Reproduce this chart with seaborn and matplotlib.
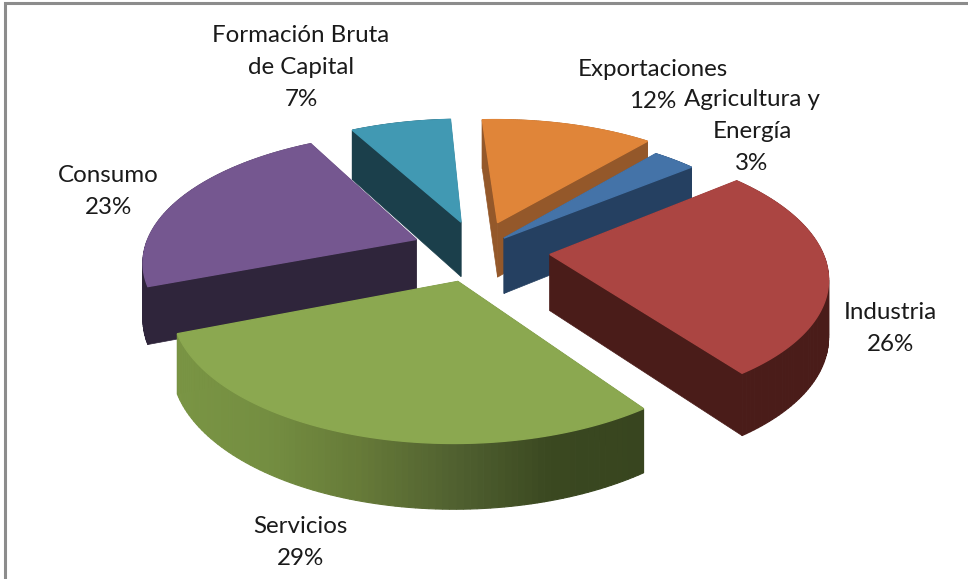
import numpy as np
import matplotlib
matplotlib.use('Agg')
import matplotlib.pyplot as plt
import seaborn as sns

# datos
categorias = ['Agricultura y\nEnergía', 'Industria', 'Servicios', 'Consumo', 'Formación Bruta\nde Capital', 'Exportaciones']
valores = [3, 26, 29, 23, 7, 12]

# colores
color_top = ['#4473a8', '#ab4542', '#8ba850', '#755790', '#4199b3', '#e08539']
color_corte = ['#254061', '#4a1c19', '#38451f', '#2f253b', '#1b3f4b', '#94582a']
color_arco = [['#254061', '#254061'],
              ['#4a1c19', '#4a1c19'],
              ['#7a9544', '#748e41', '#667a38', '#506030', '#3a4820', '#38451f'],
              ['#2f253b', '#2f253b'],
              ['#1b3f4b', '#1b3f4b'],
              ['#94582a', '#94582a']]
separacion = [0.136, 0.265, 0.25, 0.245, 0.237, 0.236]

# camara
cx, cy = 478, 250
R, incl, persp, grosor = 272, 0.465, 0.153, 56
inicio = 50

sns.set_theme(style='white')
plt.rcParams['font.family'] = ['Lato', 'DejaVu Sans']

fig, ax = plt.subplots(figsize=(9.68, 5.79), dpi=100)
ax.set_position([0, 0, 1, 1])
ax.set_xlim(0, 968)
ax.set_ylim(579, 0)
ax.axis('off')


def proyectar(u, v, z=0):
    u, v = np.asarray(u), np.asarray(v)
    w = 1 + persp * v
    return cx + R * u / w, cy - R * incl * v / w + z * grosor / (1 + 0.12 * v)


fin = inicio - np.cumsum(valores) * 3.6
ini = fin + np.array(valores) * 3.6
orden = [4, 5, 0, 3, 1, 2]

for i in orden:
    t = np.radians(np.linspace(ini[i], fin[i], 90))
    mid = np.radians((ini[i] + fin[i]) / 2)
    ou, ov = separacion[i] * np.cos(mid), separacion[i] * np.sin(mid)
    u, v = ou + np.cos(t), ov + np.sin(t)

    caras = []
    for j in [0, -1]:
        cu = np.array([ou, u[j]])
        cv = np.array([ov, v[j]])
        caras.append((cv.mean(), cu, cv, color_corte[i], 0.5))
    paleta = sns.blend_palette(color_arco[i], 256)
    for j in range(len(t) - 1):
        x_rel = np.clip((proyectar(u[j], v[j])[0] - 175) / (648 - 175), 0, 1)
        caras.append((v[j:j + 2].mean(), u[j:j + 2], v[j:j + 2], paleta[int(x_rel * 255)], 0.8))

    # primero lo de atras
    for _, cu, cv, col, ancho in sorted(caras, key=lambda c: -c[0]):
        x0, y0 = proyectar(cu, cv, 0)
        x1, y1 = proyectar(cu, cv, 1)
        ax.fill(np.r_[x0, x1[::-1]], np.r_[y0, y1[::-1]], color=col, lw=ancho)

    x, y = proyectar(np.r_[ou, u], np.r_[ov, v])
    ax.fill(x, y, color=color_top[i], lw=1.0)

# etiquetas, una linea cada vez
pos_etiquetas = [(752, 106), (890, 319), (300, 533), (108, 182), (301, 42), (653, 76)]
for cat, val, (xe, ye) in zip(categorias, valores, pos_etiquetas):
    for k, linea in enumerate(f'{cat}\n{val}%'.split('\n')):
        ax.text(xe, ye + k * 32, linea, ha='center', va='baseline', fontsize=17.4, color='#1a1a1a')

# marco
ax.plot([5, 5, 968], [579, 3, 3], color='#8c8c8c', lw=2.2, solid_joinstyle='miter')

fig.savefig('out.png', dpi=100)
